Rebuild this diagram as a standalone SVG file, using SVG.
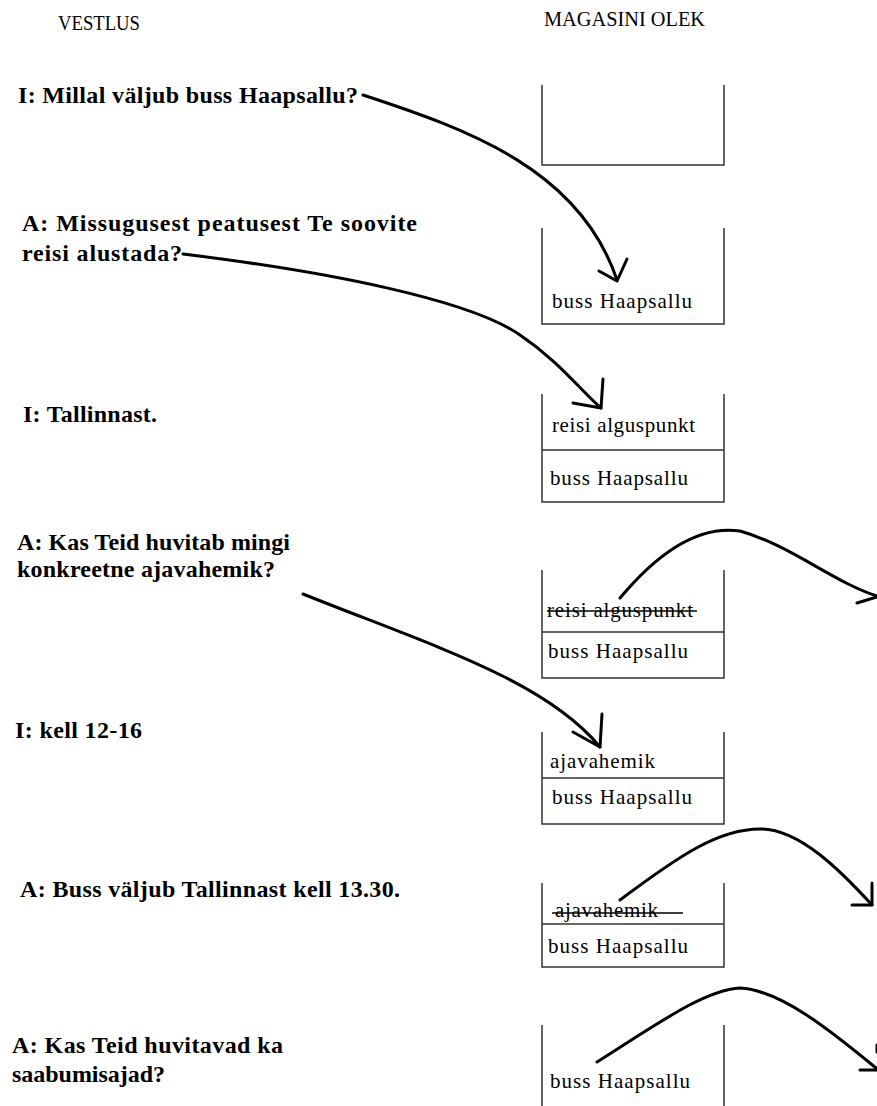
<svg xmlns="http://www.w3.org/2000/svg" width="877" height="1106" viewBox="0 0 877 1106">
<style>
.hdr{font-family:"Liberation Serif","Times New Roman",serif;font-size:21px;fill:#000}
.dlg{font-family:"Liberation Serif","Times New Roman",serif;font-size:24px;font-weight:bold;fill:#000}
.item{font-family:"Liberation Serif","Times New Roman",serif;font-size:21px;fill:#000}
.box{fill:none;stroke:#333;stroke-width:1.5}
.strike{stroke:#000;stroke-width:1.3}
.arr{fill:none;stroke:#000;stroke-width:3;stroke-linecap:round;stroke-linejoin:round}
</style>
<rect width="877" height="1106" fill="#fff"/>
<g id="headers">
<text class="hdr" x="58" y="30" textLength="82" lengthAdjust="spacingAndGlyphs">VESTLUS</text>
<text class="hdr" x="544" y="26" textLength="161" lengthAdjust="spacingAndGlyphs">MAGASINI OLEK</text>
</g>
<g id="dialog">
<text id="d1" class="dlg" x="18" y="103" textLength="340">I: Millal väljub buss Haapsallu?</text>
<text id="d2a" class="dlg" x="22" y="231" textLength="395">A: Missugusest peatusest Te soovite</text>
<text id="d2b" class="dlg" x="22" y="261" textLength="160">reisi alustada?</text>
<text id="d3" class="dlg" x="23" y="422" textLength="134">I: Tallinnast.</text>
<text id="d4a" class="dlg" x="17" y="550" textLength="273">A: Kas Teid huvitab mingi</text>
<text id="d4b" class="dlg" x="17" y="577" textLength="258">konkreetne ajavahemik?</text>
<text id="d5" class="dlg" x="15" y="738" textLength="127">I: kell 12-16</text>
<text id="d6" class="dlg" x="20" y="897" textLength="380">A: Buss väljub Tallinnast kell 13.30.</text>
<text id="d7a" class="dlg" x="12" y="1053" textLength="271">A: Kas Teid huvitavad ka</text>
<text id="d7b" class="dlg" x="12" y="1082" textLength="153">saabumisajad?</text>
</g>
<g id="stack1"><path class="box" d="M542,85 V165 H724 V85"/></g>
<g id="stack2"><path class="box" d="M542,228 V324 H724 V228"/>
<text class="item" x="552" y="308" textLength="140">buss Haapsallu</text></g>
<g id="stack3"><path class="box" d="M542,394 V502 H724 V394 M542,450 H724"/>
<text class="item" x="552" y="432" textLength="143">reisi alguspunkt</text>
<text class="item" x="550" y="485" textLength="138">buss Haapsallu</text></g>
<g id="stack4"><path class="box" d="M542,570 V678 H724 V570 M542,632 H724"/>
<text class="item" x="547" y="617" textLength="146">reisi alguspunkt</text>
<line class="strike" x1="547" y1="611" x2="697" y2="611"/>
<text class="item" x="548" y="658" textLength="140">buss Haapsallu</text></g>
<g id="stack5"><path class="box" d="M542,732 V824 H724 V732 M542,778 H724"/>
<text class="item" x="550" y="768" textLength="105">ajavahemik</text>
<text class="item" x="552" y="804" textLength="140">buss Haapsallu</text></g>
<g id="stack6"><path class="box" d="M542,883 V967 H724 V883 M542,924 H724"/>
<text class="item" x="555" y="917" textLength="103">ajavahemik</text>
<line class="strike" x1="552" y1="913" x2="683" y2="913"/>
<text class="item" x="548" y="953" textLength="140">buss Haapsallu</text></g>
<g id="stack7"><path class="box" d="M542,1025 V1106 M724,1025 V1106"/>
<text class="item" x="550" y="1088" textLength="140">buss Haapsallu</text></g>
<g id="connectors">
<path class="arr" d="M363,95 C470,130 580,170 617,280"/>
<path class="arr" d="M599,271 L617,281 L627,259"/>
<path class="arr" d="M183,254 C330,272 470,300 520,335 C560,362 580,390 601,408"/>
<path class="arr" d="M603,379 L601,408 L573,403"/>
<path class="arr" d="M620,598 C660,550 700,525 740,531 C790,545 835,583 877,596"/>
<path class="arr" d="M857,603 L877,597"/>
<path class="arr" d="M303,594 C430,645 545,680 600,747"/>
<path class="arr" d="M602,714 L600,747 L573,732"/>
<path class="arr" d="M620,900 C680,855 720,828 762,829 C800,830 840,870 872,905"/>
<path class="arr" d="M872,883 L872,905 L852,905"/>
<path class="arr" d="M597,1062 C660,1022 705,990 740,988 C780,990 830,1030 876,1068"/>
<path class="arr" d="M860,1070 L877,1070"/>
<path class="arr" d="M877,1045 V1052"/>
</g>
</svg>
